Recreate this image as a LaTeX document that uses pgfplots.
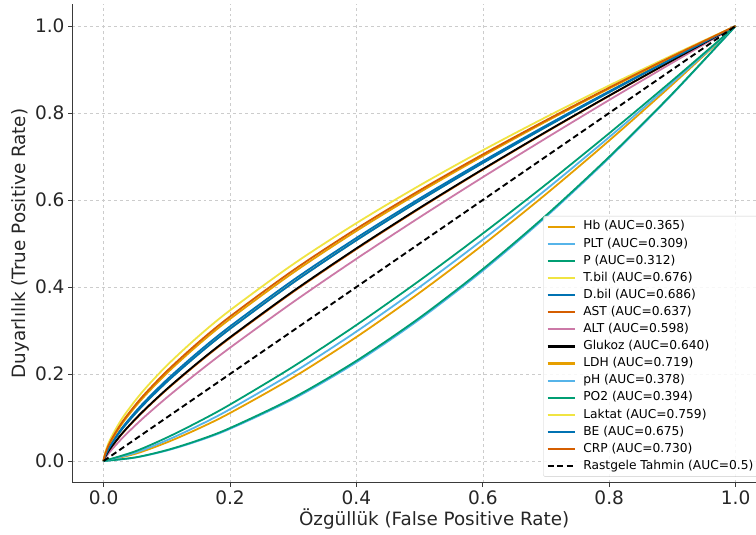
\documentclass[border=0pt]{standalone}
\usepackage{pgfplots}
\pgfplotsset{compat=1.18}
\usepackage{fontspec}
\setmainfont{DejaVu Sans}
\definecolor{okorange}{HTML}{E69F00}
\definecolor{oksky}{HTML}{56B4E9}
\definecolor{okgreen}{HTML}{009E73}
\definecolor{okyellow}{HTML}{F0E442}
\definecolor{okblue}{HTML}{0072B2}
\definecolor{okverm}{HTML}{D55E00}
\definecolor{okpink}{HTML}{CC79A7}
\definecolor{spine}{HTML}{3A3A3A}
\begin{document}
\begin{tikzpicture}
\useasboundingbox (0,0) rectangle (756bp,535bp);
\begin{axis}[
  at={(72bp,52.25bp)}, anchor=south west,
  scale only axis, width=684.6bp, height=478.5bp,
  xmin=-0.05, xmax=1.0332, ymin=-0.05, ymax=1.05,
  axis x line*=bottom, axis y line*=left,
  axis line style={spine, line width=1bp},
  xtick={0,0.2,0.4,0.6,0.8,1}, ytick={0,0.2,0.4,0.6,0.8,1},
  tick align=outside, major tick length=4bp,
  tick style={spine, line width=0.8bp},
  /pgf/number format/.cd, fixed, fixed zerofill, precision=1, assume math mode=true, /pgfplots/.cd,
  ticklabel style={font=\fontsize{18.6}{22}\selectfont, text=black!85},
  grid=major, grid style={dashed, black!20, line width=0.5bp},
  xlabel={Özgüllük (False Positive Rate)},
  ylabel={Duyarlılık (True Positive Rate)},
  label style={font=\fontsize{18.4}{22}\selectfont, text=black!85},
  xlabel style={at={(axis description cs:0.529,-0.075)}, anchor=center},
  ylabel style={at={(axis description cs:-0.076,0.5)}, anchor=center},
  legend cell align=left,
  legend style={at={(axis description cs:0.6884,0.5575)}, anchor=north west,
    font=\fontsize{12.3}{14}\selectfont, draw=black!20, fill=white, fill opacity=0.85, text opacity=1,
    rounded corners=2bp, row sep=0bp,
    nodes={inner sep=2.8bp, text height=9bp, text depth=2.5bp}},
  legend image code/.code={\draw[#1, line width=2.2bp] (0bp,0bp) -- (27bp,0bp); \path (32bp,0bp);},
  every axis plot/.append style={line width=1.8bp, smooth},
]
\addplot[okorange] coordinates {(0,0)(0.05,0.0165)(0.1,0.0427)(0.15,0.0744)(0.2,0.1103)(0.3,0.1922)(0.4,0.2850)(0.5,0.3869)(0.6,0.4967)(0.7,0.6135)(0.8,0.7367)(0.9,0.8655)(1,1)};
\addlegendentry{Hb (AUC=0.365)}
\addplot[oksky] coordinates {(0,0)(0.05,0.0079)(0.1,0.0241)(0.15,0.0464)(0.2,0.0740)(0.3,0.1425)(0.4,0.2270)(0.5,0.3258)(0.6,0.4376)(0.7,0.5615)(0.8,0.6970)(0.9,0.8432)(1,1)};
\addlegendentry{PLT (AUC=0.309)}
\addplot[okgreen] coordinates {(0,0)(0.05,0.0082)(0.1,0.0250)(0.15,0.0478)(0.2,0.0758)(0.3,0.1452)(0.4,0.2303)(0.5,0.3293)(0.6,0.4411)(0.7,0.5646)(0.8,0.6994)(0.9,0.8446)(1,1)};
\addlegendentry{P (AUC=0.312)}
\addplot[okyellow] coordinates {(0,0)(0.002,0.0101)(0.01,0.0332)(0.03,0.0748)(0.06,0.1248)(0.1,0.1821)(0.15,0.2458)(0.2,0.3041)(0.3,0.4105)(0.4,0.5078)(0.5,0.5989)(0.6,0.6854)(0.7,0.7681)(0.8,0.8479)(0.9,0.9250)(1,1)};
\addlegendentry{T.bil (AUC=0.676)}
\addplot[okblue] coordinates {(0,0)(0.002,0.0108)(0.01,0.0349)(0.03,0.0776)(0.06,0.1287)(0.1,0.1867)(0.15,0.2509)(0.2,0.3094)(0.3,0.4158)(0.4,0.5128)(0.5,0.6034)(0.6,0.6892)(0.7,0.7711)(0.8,0.8499)(0.9,0.9261)(1,1)};
\addlegendentry{D.bil (AUC=0.686)}
\addplot[okverm] coordinates {(0,0)(0.002,0.0076)(0.01,0.0269)(0.03,0.0638)(0.06,0.1099)(0.1,0.1641)(0.15,0.2256)(0.2,0.2827)(0.3,0.3887)(0.4,0.4871)(0.5,0.5804)(0.6,0.6697)(0.7,0.7558)(0.8,0.8394)(0.9,0.9206)(1,1)};
\addlegendentry{AST (AUC=0.637)}
\addplot[okpink] coordinates {(0,0)(0.002,0.0055)(0.01,0.0213)(0.03,0.0533)(0.06,0.0952)(0.1,0.1459)(0.15,0.2047)(0.2,0.2604)(0.3,0.3654)(0.4,0.4648)(0.5,0.5602)(0.6,0.6524)(0.7,0.7421)(0.8,0.8299)(0.9,0.9156)(1,1)};
\addlegendentry{ALT (AUC=0.598)}
\addplot[black] coordinates {(0,0)(0.002,0.0078)(0.01,0.0274)(0.03,0.0646)(0.06,0.1110)(0.1,0.1655)(0.15,0.2272)(0.2,0.2844)(0.3,0.3904)(0.4,0.4888)(0.5,0.5819)(0.6,0.6709)(0.7,0.7568)(0.8,0.8400)(0.9,0.9210)(1,1)};
\addlegendentry{Glukoz (AUC=0.640)}
\addplot[okorange] coordinates {(0,0)(0.002,0.0133)(0.01,0.0407)(0.03,0.0873)(0.06,0.1414)(0.1,0.2017)(0.15,0.2674)(0.2,0.3265)(0.3,0.4329)(0.4,0.5288)(0.5,0.6176)(0.6,0.7010)(0.7,0.7804)(0.8,0.8563)(0.9,0.9293)(1,1)};
\addlegendentry{LDH (AUC=0.719)}
\addplot[oksky] coordinates {(0,0)(0.05,0.0190)(0.1,0.0476)(0.15,0.0813)(0.2,0.1190)(0.3,0.2034)(0.4,0.2976)(0.5,0.3998)(0.6,0.5088)(0.7,0.6239)(0.8,0.7445)(0.9,0.8699)(1,1)};
\addlegendentry{pH (AUC=0.378)}
\addplot[okgreen] coordinates {(0,0)(0.05,0.0223)(0.1,0.0538)(0.15,0.0901)(0.2,0.1297)(0.3,0.2170)(0.4,0.3126)(0.5,0.4149)(0.6,0.5230)(0.7,0.6359)(0.8,0.7534)(0.9,0.8748)(1,1)};
\addlegendentry{PO2 (AUC=0.394)}
\addplot[okyellow] coordinates {(0,0)(0.002,0.0167)(0.01,0.0481)(0.03,0.0993)(0.06,0.1567)(0.1,0.2194)(0.15,0.2866)(0.2,0.3464)(0.3,0.4524)(0.4,0.5468)(0.5,0.6334)(0.6,0.7143)(0.7,0.7906)(0.8,0.8633)(0.9,0.9329)(1,1)};
\addlegendentry{Laktat (AUC=0.759)}
\addplot[okblue] coordinates {(0,0)(0.002,0.0100)(0.01,0.0330)(0.03,0.0745)(0.06,0.1245)(0.1,0.1817)(0.15,0.2453)(0.2,0.3036)(0.3,0.4099)(0.4,0.5073)(0.5,0.5985)(0.6,0.6850)(0.7,0.7678)(0.8,0.8476)(0.9,0.9249)(1,1)};
\addlegendentry{BE (AUC=0.675)}
\addplot[okverm] coordinates {(0,0)(0.002,0.0142)(0.01,0.0427)(0.03,0.0906)(0.06,0.1456)(0.1,0.2066)(0.15,0.2727)(0.2,0.3321)(0.3,0.4384)(0.4,0.5339)(0.5,0.6221)(0.6,0.7048)(0.7,0.7833)(0.8,0.8583)(0.9,0.9304)(1,1)};
\addlegendentry{CRP (AUC=0.730)}
\addplot[black, line width=1.9bp, dash pattern=on 6bp off 3.5bp, sharp plot] coordinates {(0,0)(1,1)};
\addlegendentry{Rastgele Tahmin (AUC=0.5)}
\end{axis}
\end{tikzpicture}
\end{document}
